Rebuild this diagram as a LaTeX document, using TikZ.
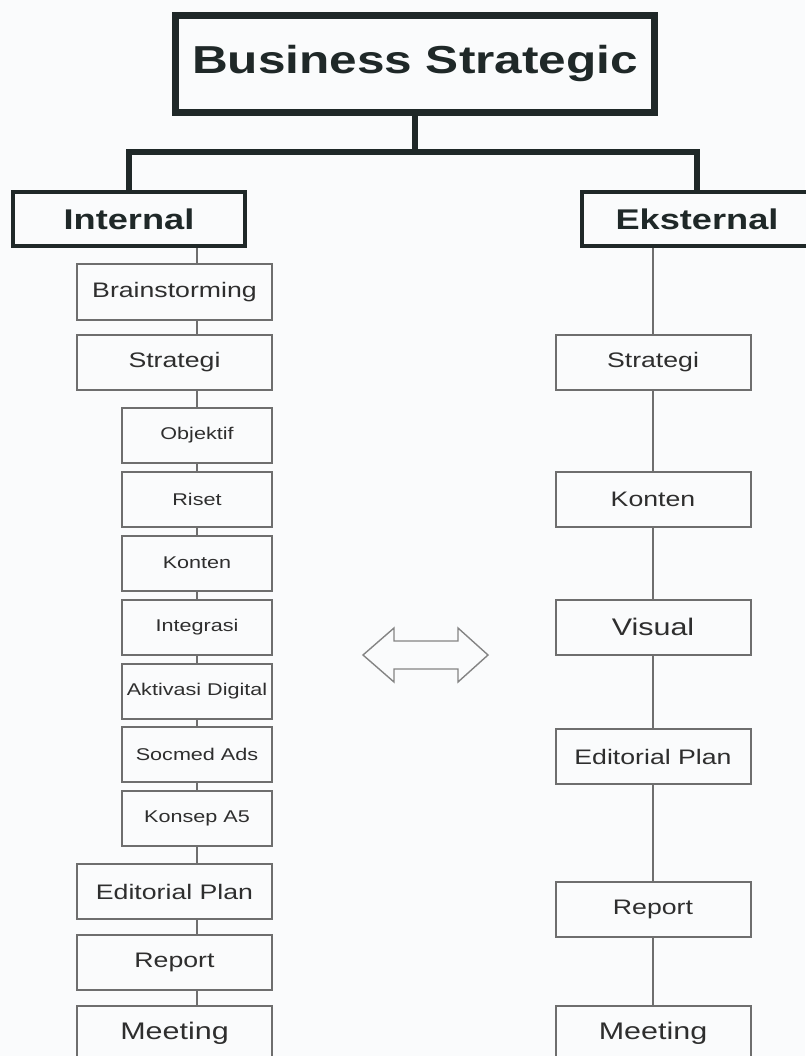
\documentclass[tikz,border=0pt]{standalone}
\usepackage{fontspec}
\setmainfont{Liberation Sans}[FakeStretch=1.27]
\definecolor{boxline}{HTML}{6E6E6E}
\definecolor{inkgray}{HTML}{2E2E2E}
\definecolor{darkline}{HTML}{1F2828}
\definecolor{paper}{HTML}{FAFBFC}
\tikzstyle{topbox}=[draw=darkline,line width=7pt,fill=paper,minimum width=479pt,minimum height=97pt,inner sep=0pt,text=darkline,font=\bfseries\fontsize{39}{39}\selectfont]
\tikzstyle{sidebox}=[draw=darkline,line width=4pt,fill=paper,minimum width=232pt,minimum height=54pt,inner sep=0pt,text=darkline,font=\bfseries\fontsize{28.5}{28.5}\selectfont]
\tikzstyle{bigbox}=[draw=boxline,line width=2pt,fill=paper,minimum width=195pt,minimum height=55pt,inner sep=0pt,text=inkgray,font=\fontsize{21}{21}\selectfont]
\tikzstyle{smallbox}=[bigbox,minimum width=150pt,font=\fontsize{17}{17}\selectfont]
\tikzstyle{largetext}=[font=\fontsize{24}{24}\selectfont]
\tikzstyle{thicklink}=[draw=darkline,line width=6.5pt]
\tikzstyle{thinlink}=[draw=boxline,line width=1.6pt]
\tikzstyle{swaparrow}=[draw=boxline!85,line width=1.4pt,line join=miter]

\begin{document}
\begin{tikzpicture}[x=1pt,y=-1pt]
  \fill[paper] (0,0) rectangle (805,1056);
  \useasboundingbox (0,0) rectangle (805,1056);

  % head and the two sides
  \node[topbox] (business) at (415,64) {Business Strategic};
  \node[sidebox] (internal) at (129,219) {Internal};
  \node[sidebox,minimum width=230pt] (eksternal) at (697,219) {Eksternal};
  \coordinate (fork) at (415,152);
  \draw[thicklink] (business.south) -- (fork);
  \draw[thicklink] (internal.north) |- (fork) -| (eksternal.north);

  % internal column
  \coordinate (ispine) at (197,0);
  \node[bigbox] (ibrain) at (174.5,292) {Brainstorming};
  \node[bigbox] (istrategi) at (174.5,362.5) {Strategi};
  \node[smallbox] (iobjektif) at (197,435) {Objektif};
  \node[smallbox] (iriset) at (197,499) {Riset};
  \node[smallbox] (ikonten) at (197,563) {Konten};
  \node[smallbox] (iintegrasi) at (197,627) {Integrasi};
  \node[smallbox] (iaktivasi) at (197,691) {Aktivasi Digital};
  \node[smallbox] (isocmed) at (197,754.5) {Socmed Ads};
  \node[smallbox] (ikonsep) at (197,818.5) {Konsep A5};
  \node[bigbox] (ieditorial) at (174.5,891.5) {Editorial Plan};
  \node[bigbox] (ireport) at (174.5,962) {Report};
  \node[bigbox,largetext] (imeeting) at (174.5,1033.5) {Meeting};
  \foreach \a/\b in {internal/ibrain,ibrain/istrategi,istrategi/iobjektif,
      iobjektif/iriset,iriset/ikonten,ikonten/iintegrasi,iintegrasi/iaktivasi,
      iaktivasi/isocmed,isocmed/ikonsep,ikonsep/ieditorial,
      ieditorial/ireport,ireport/imeeting}
    \draw[thinlink] (\a.south -| ispine) -- (\b.north -| ispine);

  % eksternal column
  \node[bigbox] (estrategi) at (653,362.5) {Strategi};
  \node[bigbox] (ekonten) at (653,499.5) {Konten};
  \node[bigbox,largetext] (evisual) at (653,627) {Visual};
  \node[bigbox] (eeditorial) at (653,756.5) {Editorial Plan};
  \node[bigbox] (ereport) at (653,909) {Report};
  \node[bigbox,largetext] (emeeting) at (653,1033.5) {Meeting};
  \foreach \a/\b in {eksternal/estrategi,estrategi/ekonten,ekonten/evisual,
      evisual/eeditorial,eeditorial/ereport,ereport/emeeting}
    \draw[thinlink] (\a.south -| estrategi) -- (\b.north);

  % two-way arrow between the columns
  \draw[swaparrow] (363,655) -- (394,628) -- (394,641) -- (458,641) -- (458,628)
    -- (488,655) -- (458,682) -- (458,669) -- (394,669) -- (394,682) -- cycle;
\end{tikzpicture}
\end{document}
